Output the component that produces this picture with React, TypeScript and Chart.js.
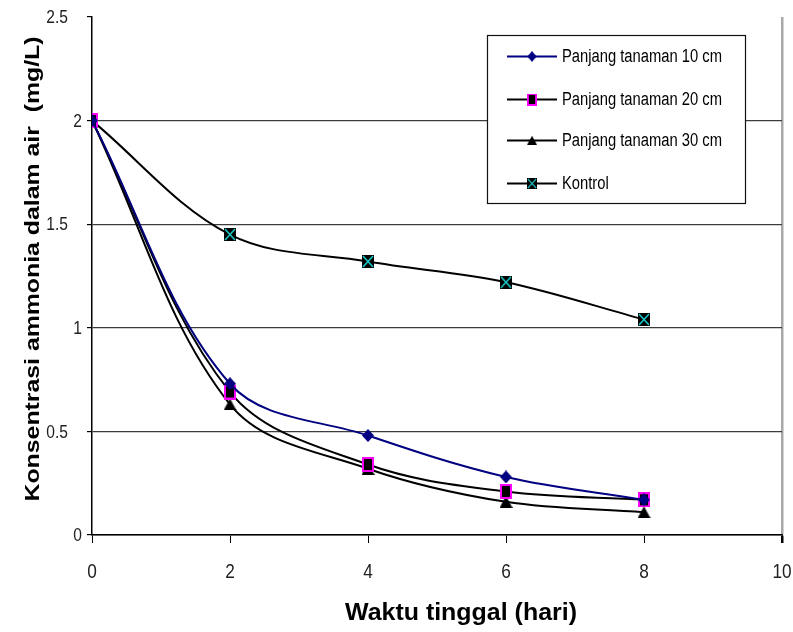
import React, { useEffect, useRef } from "react";
import { Chart, registerables } from "chart.js";

Chart.register(...registerables);

// Residence time (days) and ammonia concentration in water (mg/L)
const days = [0, 2, 4, 6, 8];
const panjang10 = [2, 0.73, 0.48, 0.28, 0.17];
const panjang20 = [2, 0.69, 0.34, 0.21, 0.17];
const panjang30 = [2, 0.63, 0.32, 0.16, 0.11];
const kontrol = [2, 1.45, 1.32, 1.22, 1.04];

const seriesLabels = [
  "Panjang tanaman 10 cm",
  "Panjang tanaman 20 cm",
  "Panjang tanaman 30 cm",
  "Kontrol",
];
const xTitle = "Waktu tinggal (hari)";
const yTitle = "Konsentrasi ammonia dalam air  (mg/L)";

const SANS = '"Liberation Sans", Arial, sans-serif';
// Narrow look: regular sans squeezed horizontally
const NARROW_SCALE = 0.82;

type MarkerKind = "diamond" | "square" | "triangle" | "cross";

function makeMarker(kind: MarkerKind, w: number, h: number): HTMLCanvasElement {
  const c = document.createElement("canvas");
  c.width = w;
  c.height = h;
  const g = c.getContext("2d")!;
  if (kind === "diamond") {
    g.fillStyle = "#000080";
    g.beginPath();
    g.moveTo(w / 2, 0);
    g.lineTo(w, h / 2);
    g.lineTo(w / 2, h);
    g.lineTo(0, h / 2);
    g.closePath();
    g.fill();
  } else if (kind === "square") {
    g.fillStyle = "#000";
    g.fillRect(0, 0, w, h);
    g.strokeStyle = "#ff00ff";
    g.lineWidth = 2;
    g.strokeRect(1, 1, w - 2, h - 2);
  } else if (kind === "triangle") {
    g.fillStyle = "#000";
    g.beginPath();
    g.moveTo(w / 2, 0);
    g.lineTo(w, h);
    g.lineTo(0, h);
    g.closePath();
    g.fill();
  } else {
    g.fillStyle = "#000";
    g.fillRect(0, 0, w, h);
    g.strokeStyle = "#19c8c8";
    g.lineWidth = 1.6;
    g.beginPath();
    g.moveTo(1, 1);
    g.lineTo(w - 1, h - 1);
    g.moveTo(w - 1, 1);
    g.lineTo(1, h - 1);
    g.stroke();
  }
  return c;
}

function narrowText(ctx: CanvasRenderingContext2D, text: string, x: number, y: number) {
  ctx.save();
  ctx.translate(x, y);
  ctx.scale(NARROW_SCALE, 1);
  ctx.fillText(text, 0, 0);
  ctx.restore();
}

// Legend drawn inside the plot, top right
const legendPlugin = {
  id: "boxLegend",
  afterDatasetsDraw(chart: any) {
    const { ctx } = chart;
    const bx = 487.5;
    const by = 35.5;
    const bw = 258;
    const bh = 168;
    ctx.save();
    ctx.fillStyle = "#fff";
    ctx.fillRect(bx, by, bw, bh);
    ctx.strokeStyle = "#111";
    ctx.lineWidth = 1.2;
    ctx.strokeRect(bx, by, bw, bh);
    const rows = [21, 64, 105, 148];
    chart.data.datasets.forEach((ds: any, i: number) => {
      const y = by + rows[i];
      ctx.strokeStyle = ds.borderColor;
      ctx.lineWidth = 2;
      ctx.beginPath();
      ctx.moveTo(507, y);
      ctx.lineTo(557, y);
      ctx.stroke();
      const m: HTMLCanvasElement = ds.pointStyle;
      const mw = m.width * 0.8;
      const mh = m.height * 0.8;
      ctx.drawImage(m, 532 - mw / 2, y - mh / 2, mw, mh);
      ctx.fillStyle = "#000";
      ctx.font = `18px ${SANS}`;
      ctx.textAlign = "left";
      ctx.textBaseline = "middle";
      narrowText(ctx, ds.label, 562, y + 1);
    });
    ctx.restore();
  },
};

// Tick labels and both axis titles
const labelsPlugin = {
  id: "axisLabels",
  afterDraw(chart: any) {
    const { ctx, chartArea } = chart;
    const ys = chart.scales.y;
    const xs = chart.scales.x;
    ctx.save();
    ctx.fillStyle = "#222";
    ctx.font = `19px ${SANS}`;
    ctx.textAlign = "right";
    ctx.textBaseline = "middle";
    ys.ticks.forEach((t: any) => {
      const v = t.value;
      const py = ys.getPixelForValue(v);
      const x = Number.isInteger(v) ? chartArea.left - 10 : chartArea.left - 24;
      narrowText(ctx, String(v), x, py + 1);
    });

    ctx.font = `21px ${SANS}`;
    ctx.textAlign = "center";
    xs.ticks.forEach((t: any) => {
      const px = xs.getPixelForValue(t.value);
      narrowText(ctx, String(t.value), px, chartArea.bottom + 37);
    });

    ctx.fillStyle = "#000";
    ctx.textAlign = "center";
    ctx.textBaseline = "middle";

    ctx.font = `bold 23px ${SANS}`;
    const xw = ctx.measureText(xTitle).width;
    ctx.save();
    ctx.translate((chartArea.left + chartArea.right) / 2 + 24, 614);
    ctx.scale(232 / xw, 1);
    ctx.fillText(xTitle, 0, 0);
    ctx.restore();

    ctx.font = `bold 20px ${SANS}`;
    const yw = ctx.measureText(yTitle).width;
    ctx.save();
    ctx.translate(33, 269);
    ctx.rotate(-Math.PI / 2);
    ctx.scale(465 / yw, 1);
    ctx.fillText(yTitle, 0, 0);
    ctx.restore();
    ctx.restore();
  },
};

export default function App() {
  const ref = useRef<HTMLCanvasElement | null>(null);

  useEffect(() => {
    if (!ref.current) return;
    const toPts = (vals: number[]) => days.map((d, i) => ({ x: d, y: vals[i] }));
    const common = {
      borderWidth: 2,
      tension: 0.35,
      fill: false,
      pointRadius: 6,
    };
    const chart = new Chart(ref.current, {
      type: "line",
      data: {
        datasets: [
          {
            ...common,
            label: seriesLabels[0],
            data: toPts(panjang10),
            borderColor: "#000080",
            pointStyle: makeMarker("diamond", 12, 13),
          },
          {
            ...common,
            label: seriesLabels[1],
            data: toPts(panjang20),
            borderColor: "#000",
            pointStyle: makeMarker("square", 12, 15),
          },
          {
            ...common,
            label: seriesLabels[2],
            data: toPts(panjang30),
            borderColor: "#000",
            pointStyle: makeMarker("triangle", 13, 12),
          },
          {
            ...common,
            label: seriesLabels[3],
            data: toPts(kontrol),
            borderColor: "#000",
            pointStyle: makeMarker("cross", 12, 13),
          },
        ] as any,
      },
      options: {
        animation: false,
        responsive: false,
        devicePixelRatio: 1,
        events: [],
        layout: { padding: { top: 17, right: 11, left: 0, bottom: 0 } },
        plugins: {
          legend: { display: false },
          tooltip: { enabled: false },
        },
        scales: {
          x: {
            type: "linear",
            min: 0,
            max: 10,
            ticks: { stepSize: 2, display: false },
            grid: {
              color: (c: any) => (c.tick && c.tick.value === 10 ? "#a8a8a8" : "rgba(0,0,0,0)"),
              lineWidth: (c: any) => (c.tick && c.tick.value === 10 ? 2.5 : 1),
              tickColor: "#000",
              tickLength: 8,
            },
            border: { color: "#000", width: 1.5 },
            afterFit: (s: any) => {
              s.height = 97;
              s.paddingLeft = 0;
              s.paddingRight = 0;
            },
          },
          y: {
            type: "linear",
            min: 0,
            max: 2.5,
            ticks: { stepSize: 0.5, display: false },
            grid: {
              color: (c: any) => (c.tick && c.tick.value === 2.5 ? "rgba(0,0,0,0)" : "#3c3c3c"),
              lineWidth: 1.2,
              tickColor: "#000",
              tickLength: 5,
            },
            border: { color: "#000", width: 1.5 },
            afterFit: (s: any) => {
              s.width = 92;
              s.paddingTop = 0;
              s.paddingBottom = 0;
            },
          },
        },
      },
      plugins: [legendPlugin, labelsPlugin],
    });
    return () => chart.destroy();
  }, []);

  return (
    <div style={{ position: "absolute", left: 0, top: 0, width: 793, height: 632, background: "#fff" }}>
      <canvas ref={ref} width={793} height={632} />
    </div>
  );
}
